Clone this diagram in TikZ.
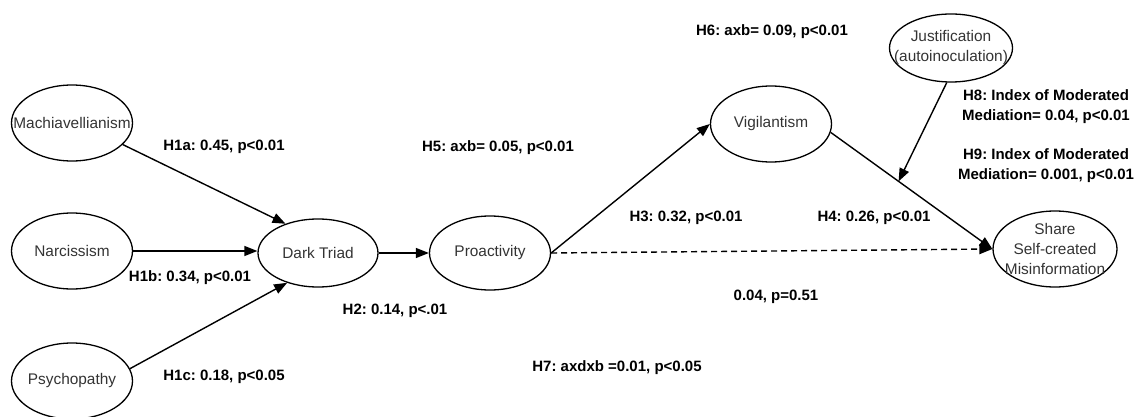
\documentclass[tikz,border=0pt]{standalone}
\usepackage{fontspec}
\setmainfont{Liberation Sans}
\usetikzlibrary{shapes.geometric,arrows.meta,calc}

\definecolor{nodetxt}{HTML}{333333}
\frenchspacing

\begin{document}
\begin{tikzpicture}[x=1pt,y=-1pt,
  latent/.style={draw, ellipse, line width=1.3pt, inner sep=0pt,
    minimum width=121pt, minimum height=76pt},
  nodetext/.style={text=nodetxt, align=center, inner sep=0pt,
    font=\fontsize{15.4}{20}\selectfont},
  coef/.style={align=center, inner sep=0pt,
    font=\bfseries\fontsize{15}{20}\selectfont},
  path/.style={line width=1.4pt, -{Triangle[length=13pt,width=10pt]}},
  weakpath/.style={path, dash pattern=on 6pt off 4pt}
]
\useasboundingbox (0,0) rectangle (1139,417);

% constructs
\node[latent, label={[nodetext]center:Machiavellianism}] (mach) at (72,123) {};
\node[latent, label={[nodetext]center:Narcissism}] (narc) at (72,251) {};
\node[latent, label={[nodetext]center:Psychopathy}] (psych) at (72,381) {};
\node[latent, minimum width=120pt, minimum height=68pt,
      label={[nodetext]center:Dark Triad}] (dt) at (318,253) {};
\node[latent, minimum height=74pt,
      label={[nodetext]center:Proactivity}] (pro) at (490,253) {};
\node[latent, label={[nodetext]center:Vigilantism}] (vig) at (771,124) {};
\node[latent, minimum width=123pt, minimum height=68pt,
      label={[nodetext]center:Justification\\(autoinoculation)}] (just) at (951,48) {};
\node[latent, minimum width=124pt, minimum height=76pt,
      label={[nodetext]center:Share\\Self-created\\Misinformation}] (share) at (1055,249) {};

% structural paths
\draw[path] (mach.-23) -- (dt.138);
\draw[path] (narc.east) -- (dt.west |- narc.east);
\draw[path] (psych.12) -- (dt.224);
\draw[path] (dt) -- (pro);
\draw[path] (pro.east) -- (vig.west);
\draw[weakpath] (pro.east) -- (share.west);
\draw[path] (vig.-8) -- (share.west);
\coordinate (mod) at ($(vig.-8)!0.42!(share.west)$);
\draw[path] (just.-97) -- (mod);

% path coefficients
\node[coef] (h1a) at (224,147) {H1a: 0.45, p<0.01};
\node[coef] (h1b) at (190,278) {H1b: 0.34, p<0.01};
\node[coef] (h1c) at (224,377) {H1c: 0.18, p<0.05};
\node[coef] (h2) at (395,311) {H2: 0.14, p<.01};
\node[coef] (h5) at (498,148) {H5: axb= 0.05, p<0.01};
\node[coef] (h3) at (686,218) {H3: 0.32, p<0.01};
\node[coef] (dir) at (776,297) {0.04, p=0.51};
\node[coef] (h7) at (617,368) {H7: axdxb =0.01, p<0.05};
\node[coef] (h6) at (772,32) {H6: axb= 0.09, p<0.01};
\node[coef] (h4) at (874,218) {H4: 0.26, p<0.01};
\node[coef] (h8) at (1046,107) {H8: Index of Moderated\\Mediation= 0.04, p<0.01};
\node[coef] (h9) at (1046,166) {H9: Index of Moderated\\Mediation= 0.001, p<0.01};
\end{tikzpicture}
\end{document}
